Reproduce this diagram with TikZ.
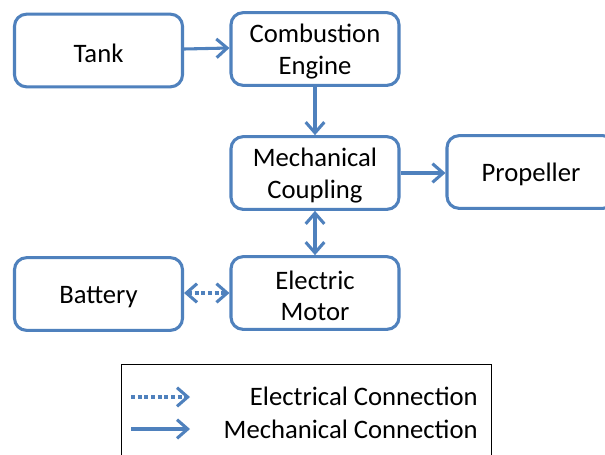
\documentclass[tikz,border=0pt]{standalone}
\usepackage{fontspec}
\setmainfont{Carlito}
\usetikzlibrary{arrows.meta}
\definecolor{boxblue}{HTML}{4F81BD}
\newcommand{\lowtxt}[1]{\raisebox{-2pt}[\height][\depth]{#1}}
\tikzset{
  blk/.style={draw=boxblue, line width=2.3pt, rounded corners=9pt, minimum width=126pt, minimum height=54.5pt, align=center, inner sep=0pt, font=\fontsize{20}{23.5}\selectfont},
  txt/.style={align=center, inner sep=0pt, font=\fontsize{20}{23.5}\selectfont},
  conn/.style={draw=boxblue, line width=2.3pt, -{Straight Barb[length=8pt,width=14pt]}},
  both/.style={draw=boxblue, line width=2.3pt, {Straight Barb[length=8pt,width=14pt]}-{Straight Barb[length=8pt,width=14pt]}},
  elec/.style={dash pattern=on 3pt off 2pt},
  legtext/.style={anchor=east, inner sep=0pt, font=\fontsize{20}{24}\selectfont}
}
\begin{document}
\begin{tikzpicture}[x=0.75pt,y=-0.75pt]
\clip (0,0) rectangle (605,454);
\fill[white] (0,0) rectangle (605,454);
\node[blk] (tank) at (98.5,50.5) {\lowtxt{Tank}};
\node[blk] (ce) at (315,49) {};
\node[txt] (cet) at (315,51.5) {Combustion\\Engine};
\node[blk] (mc) at (315,173) {};
\node[txt] (mct) at (315,175.5) {Mechanical\\Coupling};
\node[blk] (prop) at (531,172) {\lowtxt{Propeller}};
\node[blk] (bat) at (98.5,294) {\lowtxt{Battery}};
\node[blk] (em) at (315,293) {};
\node[txt] (emt) at (315,295.5) {Electric\\Motor};
\draw[conn] (tank.east |- 0,49) -- (ce.west |- 0,48);
\draw[conn] (ce) -- (mc);
\draw[conn] (mc) -- (prop.west |- mc);
\draw[both] (mc) -- (em);
\draw[both, elec] (bat.east |- 0,293) -- (em.west |- 0,293);
% legend
\node[draw=black, line width=0.9pt, minimum width=277.5pt, minimum height=75pt, anchor=north west, inner sep=0pt] (leg) at (121,364) {};
\coordinate (e1) at (131,397);
\coordinate (e2) at (190,397);
\coordinate (m1) at (131,429);
\coordinate (m2) at (190,429);
\draw[conn, elec] (e1) -- (e2);
\draw[conn] (m1) -- (m2);
\node[legtext] (lt1) at (478,396) {Electrical Connection};
\node[legtext] (lt2) at (478,429) {Mechanical Connection};
\end{tikzpicture}
\end{document}
